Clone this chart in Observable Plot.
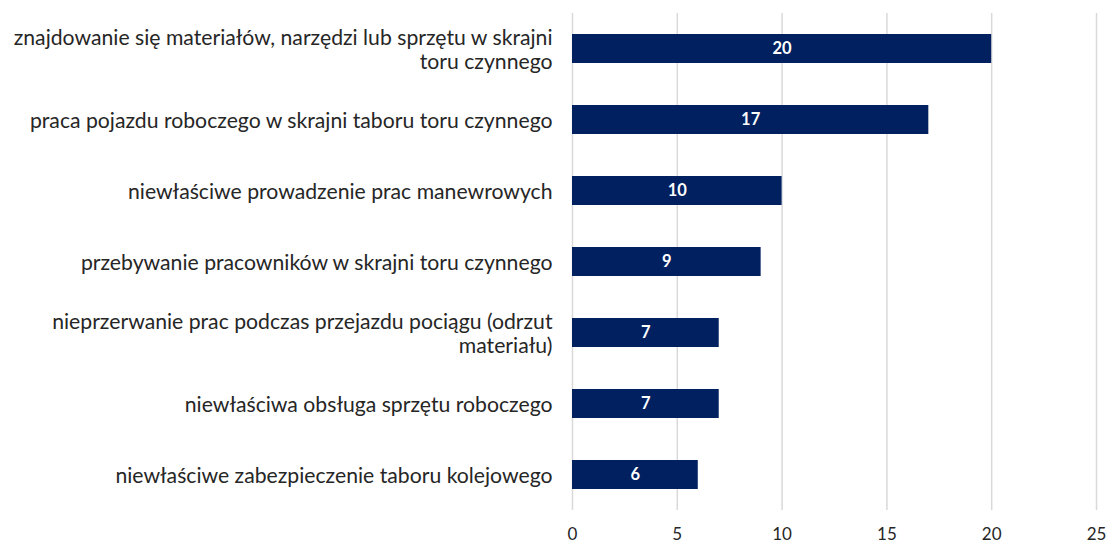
<!DOCTYPE html>
<html>
<head>
<meta charset="utf-8">
<script src="https://cdn.jsdelivr.net/npm/d3@7"></script>
<script src="https://cdn.jsdelivr.net/npm/@observablehq/plot@0.6"></script>
<style>
  html, body { margin: 0; padding: 0; background: #fff; }
  #chart { width: 1106px; height: 543px; }
</style>
</head>
<body>
<div id="chart"></div>
<script>
const categories = [
  "znajdowanie się materiałów, narzędzi lub sprzętu w skrajni\ntoru czynnego",
  "praca pojazdu roboczego w skrajni taboru toru czynnego",
  "niewłaściwe prowadzenie prac manewrowych",
  "przebywanie pracowników w skrajni toru czynnego",
  "nieprzerwanie prac podczas przejazdu pociągu (odrzut\nmateriału)",
  "niewłaściwa obsługa sprzętu roboczego",
  "niewłaściwe zabezpieczenie taboru kolejowego"
];
const values = [20, 17, 10, 9, 7, 7, 6];
const xTicks = [0, 5, 10, 15, 20, 25];

const data = categories.map((c, i) => ({cat: c, value: values[i]}));

const chart = Plot.plot({
  width: 1106,
  height: 543,
  marginTop: 13,
  marginBottom: 33,
  marginLeft: 572,
  marginRight: 10,
  style: {fontFamily: "Lato, 'Open Sans', sans-serif", color: "#262626", background: "#fff"},
  x: {domain: [0, 25], ticks: xTicks},
  y: {domain: categories, paddingInner: 0.59, paddingOuter: 0.295, label: null},
  marks: [
    Plot.gridX(xTicks, {stroke: "#d9d9d9", strokeOpacity: 1, strokeWidth: 1.5}),
    Plot.barX(data, {x: "value", y: "cat", fill: "#002060"}),
    Plot.text(data, {
      x: d => d.value / 2, y: "cat", text: d => String(d.value),
      fill: "#fff", fontWeight: "bold", fontSize: 16.5
    }),
    Plot.axisX({ticks: xTicks, tickSize: 0, tickPadding: 17, fontSize: 17, label: null}),
    Plot.axisY({tickSize: 0, tickPadding: 20, fontSize: 21.2, lineHeight: 1.15, label: null})
  ]
});
document.getElementById("chart").appendChild(chart);
</script>
</body>
</html>
